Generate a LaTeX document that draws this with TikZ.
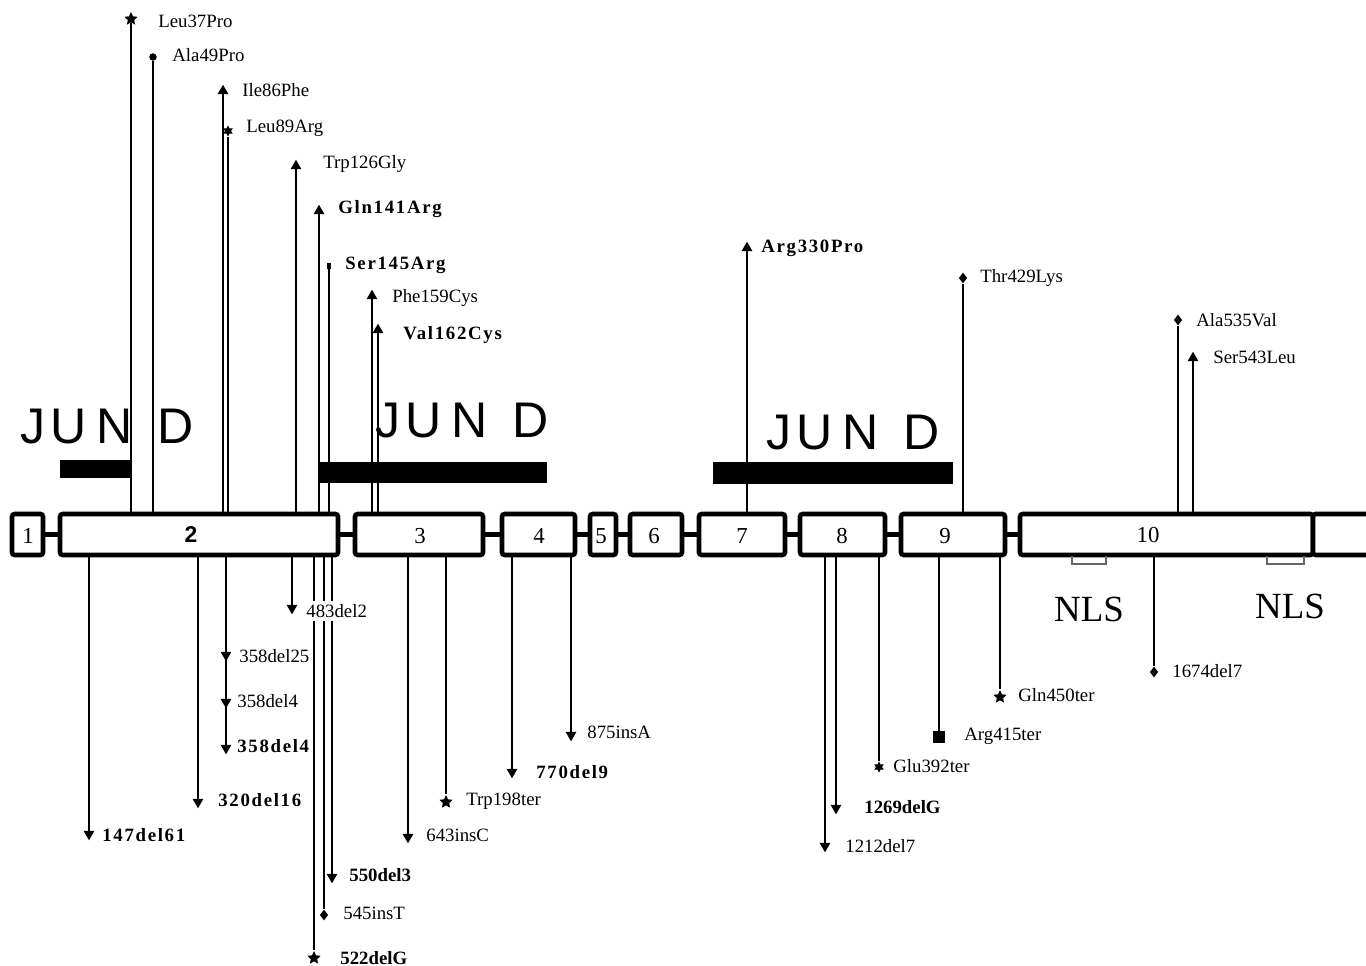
\documentclass[tikz,border=0pt]{standalone}
\usepackage{fontspec}
\setmainfont{Liberation Serif}
\setsansfont{Liberation Sans}
\newfontfamily\lsbold[LetterSpace=9]{Liberation Serif}
\usetikzlibrary{shapes.geometric}
\newcommand\jund{J\kern3pt U\kern5.5pt N\kern14pt D}
\newcommand\exon[4]{\node[exonbox, minimum width={(#3-#2)*0.02cm}] (#1) at ({(#2+#3)/2},534.5) {#4};}
\newcommand\mutlabels{}
\newcommand\mut[9]{\node[#2] (#1) at (#3,#4) {}; \draw[stem] (#9 -| #1) -- (#1);
  \expandafter\gdef\expandafter\mutlabels\expandafter{\mutlabels \node[#5] (#1l) at (#6,#7) {#8};}}
\tikzset{
 exonbox/.style={draw, line width=2.6pt, rounded corners=1.5pt, inner sep=0pt, minimum height=0.82cm, fill=white},
 exnum/.style={font=\fontsize{13}{15}\selectfont, inner sep=0pt},
 intron/.style={line width=2.8pt},
 stem/.style={line width=0.6pt},
 lab/.style={anchor=west, inner xsep=1pt, inner ysep=2pt, xshift=-1pt, fill=white, font=\fontsize{10.7}{12}\selectfont},
 blab/.style={lab, font=\fontsize{10.7}{12}\selectfont\bfseries},
 slab/.style={lab, font=\fontsize{10.7}{12}\selectfont\lsbold\bfseries},
 mk/.style={fill=black, draw=none, inner sep=0pt},
 tri/.style={mk, regular polygon, regular polygon sides=3, minimum size=0.25cm},
 dtri/.style={tri, shape border rotate=180},
 starm/.style={mk, star, star points=5, star point ratio=2.1, minimum size=0.28cm},
 astm/.style={mk, star, star points=6, star point ratio=1.8, minimum size=0.22cm},
 diam/.style={mk, diamond, minimum width=0.17cm, minimum height=0.22cm},
 dotm/.style={mk, circle, minimum size=0.15cm},
 sqs/.style={mk, rectangle, minimum width=0.09cm, minimum height=0.12cm},
 sqb/.style={mk, rectangle, minimum size=0.24cm},
 jundst/.style={font=\fontsize{28.5}{30}\selectfont\sffamily, anchor=west, inner sep=0pt},
 nlsb/.style={line width=0.6pt, draw=black!60},
 nlst/.style={font=\fontsize{21}{24}\selectfont, inner sep=0pt}
}
\begin{document}
\begin{tikzpicture}[x=0.02cm,y=-0.02cm]
\clip (0,0) rectangle (1366,966);
\fill[white] (0,0) rectangle (1366,966);
% exons
\exon{e1}{12}{43}{}
\exon{e2}{60}{338}{}
\exon{e3}{355}{483}{}
\exon{e4}{502}{575}{}
\exon{e5}{590}{616}{}
\exon{e6}{630}{682}{}
\exon{e7}{699}{785}{}
\exon{e8}{800}{885}{}
\exon{e9}{901}{1005}{}
\exon{e10}{1020}{1313}{}
\exon{e11}{1313}{1430}{}
\draw[intron] (e1.east) -- (e2.west);
\draw[intron] (e2.east) -- (e3.west);
\draw[intron] (e3.east) -- (e4.west);
\draw[intron] (e4.east) -- (e5.west);
\draw[intron] (e5.east) -- (e6.west);
\draw[intron] (e6.east) -- (e7.west);
\draw[intron] (e7.east) -- (e8.west);
\draw[intron] (e8.east) -- (e9.west);
\draw[intron] (e9.east) -- (e10.west);
\node[exnum] (n1) at (28,536) {1};
\node[exnum] (n2) at (191,535) {\sffamily\bfseries 2};
\node[exnum] (n3) at (420,536) {3};
\node[exnum] (n4) at (539,536) {4};
\node[exnum] (n5) at (601,536) {5};
\node[exnum] (n6) at (654,536) {6};
\node[exnum] (n7) at (742,536) {7};
\node[exnum] (n8) at (842,536) {8};
\node[exnum] (n9) at (945,536) {9};
\node[exnum] (n10) at (1148,535) {10};
% NLS
\draw[nlsb] (1072,556) -- (1072,564) -- (1106,564) -- (1106,556);
\draw[nlsb] (1267,556) -- (1267,564) -- (1304,564) -- (1304,556);
\node[nlst] (nls1) at (1089,609) {NLS};
\node[nlst] (nls2) at (1290,606) {NLS};
% JUN D
\node[jundst] (j1) at (20,427) {\jund};
\node[jundst] (j2) at (375,421) {\jund};
\node[jundst] (j3) at (766,433) {\jund};
\fill (60,460) rectangle (131,478);
\fill (318,462) rectangle (547,483);
\fill (713,462) rectangle (953,484);
% above
\mut{u1}{starm}{131}{19}{lab}{158}{21}{Leu37Pro}{e2.north}
\mut{u2}{dotm}{153}{57}{lab}{172}{55}{Ala49Pro}{e2.north}
\mut{u3}{tri}{223}{91}{lab}{242}{90}{Ile86Phe}{e2.north}
\mut{u4}{astm}{228}{131}{lab}{246}{128}{Leu89Arg}{e2.north}
\mut{u5}{tri}{296}{166}{lab}{323}{164}{Trp126Gly}{e2.north}
\mut{u6}{tri}{319}{211}{slab}{338}{209}{Gln141Arg}{e2.north}
\mut{u7}{sqs}{329}{266}{slab}{345}{265}{Ser145Arg}{e2.north}
\mut{u8}{tri}{372}{296}{lab}{392}{298}{Phe159Cys}{e3.north}
\mut{u9}{tri}{378}{330}{slab}{403}{335}{Val162Cys}{e3.north}
\mut{u10}{tri}{747}{248}{slab}{761}{248}{Arg330Pro}{e7.north}
\mut{u11}{diam}{963}{278}{lab}{980}{278}{Thr429Lys}{e9.north}
\mut{u12}{diam}{1178}{320}{lab}{1196}{320}{Ala535Val}{e10.north}
\mut{u13}{tri}{1193}{358}{lab}{1213}{357}{Ser543Leu}{e10.north}
% below
\mut{d1}{dtri}{89}{834}{slab}{102}{835}{147del61}{e2.south}
\mut{d2}{dtri}{198}{802}{slab}{218}{800}{320del16}{e2.south}
\mut{d3}{dtri}{226}{655}{lab}{239}{656}{358del25}{e2.south}
\mut{d4}{dtri}{226}{702}{lab}{237}{701}{358del4}{e2.south}
\mut{d5}{dtri}{226}{748}{slab}{237}{746}{358del4}{e2.south}
\mut{d6}{dtri}{292}{608}{lab}{306}{611}{483del2}{e2.south}
\mut{d7}{starm}{314}{958}{blab}{340}{958}{522delG}{e2.south}
\mut{d8}{diam}{324}{915}{lab}{343}{913}{545insT}{e2.south}
\mut{d9}{dtri}{332}{877}{blab}{349}{875}{550del3}{e2.south}
\mut{d10}{dtri}{408}{837}{lab}{426}{835}{643insC}{e3.south}
\mut{d11}{starm}{446}{802}{lab}{466}{801}{Trp198ter}{e3.south}
\mut{d12}{dtri}{512}{772}{slab}{536}{772}{770del9}{e4.south}
\mut{d13}{dtri}{571}{735}{lab}{587}{732}{875insA}{e4.south}
\mut{d14}{dtri}{825}{846}{lab}{845}{846}{1212del7}{e8.south}
\mut{d15}{dtri}{836}{808}{blab}{864}{807}{1269delG}{e8.south}
\mut{d16}{astm}{879}{767}{lab}{893}{766}{Glu392ter}{e8.south}
\mut{d17}{sqb}{939}{737}{lab}{964}{736}{Arg415ter}{e9.south}
\mut{d18}{starm}{1000}{697}{lab}{1018}{695}{Gln450ter}{e9.south}
\mut{d19}{diam}{1154}{672}{lab}{1172}{671}{1674del7}{e10.south}
% labels drawn last, over the stems
\mutlabels
\end{tikzpicture}
\end{document}
